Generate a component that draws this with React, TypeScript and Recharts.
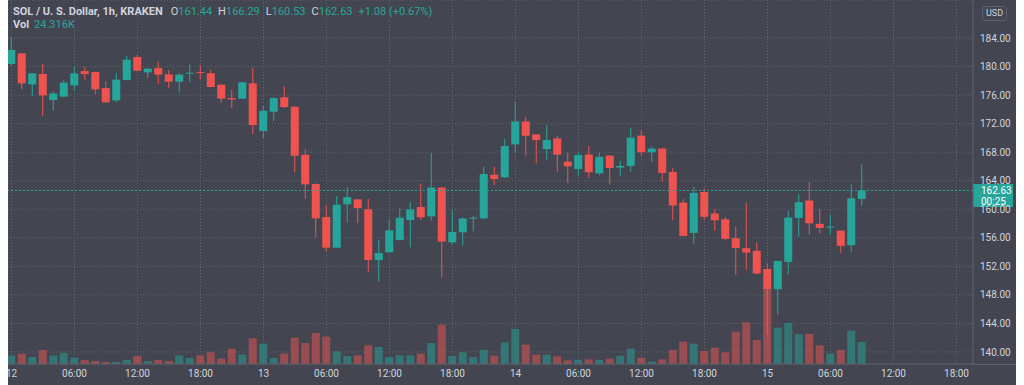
import React from 'react';
import { ComposedChart, Bar, XAxis, YAxis, CartesianGrid, ReferenceLine } from 'recharts';

// SOL / USD, 1h candles from 12th 00:00 to 15th 09:00 (hour index = position)
const open = [
  180.36, 181.85, 177.5, 178.95, 175.31, 175.78, 177.36, 179.37, 179.23, 176.99,
  175.26, 178.11, 181.34, 179.19, 179.79, 178.91, 177.88, 179.0, 179.23, 179.05,
  177.46, 175.59, 175.5, 177.64, 170.96, 173.67, 175.68, 174.37, 167.64, 163.54,
  158.91, 154.62, 160.69, 161.39, 159.99, 152.89, 153.96, 155.69, 158.49, 160.31,
  159.0, 163.05, 155.37, 156.77, 158.68, 158.73, 164.84, 164.47, 169.09, 172.31,
  170.49, 168.44, 169.93, 166.66, 165.64, 167.66, 165.04, 167.52, 165.84, 166.07,
  170.32, 167.99, 168.5, 165.23, 160.94, 156.69, 162.43, 159.4, 158.6, 155.94,
  154.54, 154.17, 151.63, 148.8, 152.63, 158.79, 161.22, 157.95, 157.44, 157.01,
  154.96, 161.44,
];
const high = [
  184.1, 181.9, 179.1, 180.35, 176.5, 178.1, 180.03, 179.9, 179.25, 177.93,
  179.05, 181.52, 181.66, 179.75, 180.68, 179.51, 179.05, 180.31, 180.21, 179.6,
  177.5, 176.71, 177.8, 179.84, 174.47, 175.7, 177.22, 174.4, 168.44, 163.6,
  160.5, 161.85, 163.11, 161.4, 161.43, 155.74, 158.54, 160.13, 160.97, 163.58,
  167.83, 163.1, 159.94, 158.8, 159.1, 165.97, 165.97, 169.84, 175.11, 172.97,
  170.5, 171.85, 170.26, 167.97, 167.97, 168.87, 167.9, 167.55, 166.77, 171.44,
  171.07, 168.83, 168.6, 165.79, 161.4, 163.13, 162.9, 160.0, 158.93, 157.57,
  160.89, 155.33, 152.43, 152.8, 159.72, 162.08, 163.83, 160.0, 159.25, 157.05,
  163.5, 166.29,
];
const low = [
  180.1, 176.85, 175.87, 173.07, 173.81, 175.7, 176.62, 178.2, 176.15, 174.9,
  174.98, 178.05, 179.33, 178.44, 177.5, 176.99, 176.38, 177.79, 178.16, 177.1,
  174.93, 174.19, 175.45, 170.54, 169.98, 172.32, 174.2, 165.17, 161.43, 156.07,
  154.1, 154.6, 158.17, 158.07, 151.16, 149.9, 153.9, 155.6, 154.67, 158.5,
  158.4, 150.46, 155.04, 154.94, 156.9, 158.6, 163.4, 164.4, 167.97, 167.5,
  166.43, 166.94, 165.22, 163.68, 164.7, 164.39, 164.76, 163.46, 164.72, 165.28,
  167.52, 166.63, 163.88, 158.46, 156.2, 155.1, 158.55, 156.97, 155.7, 150.76,
  151.55, 150.9, 142.38, 145.2, 150.85, 156.13, 156.45, 156.59, 156.37, 153.89,
  154.03, 160.53,
];
const close = [
  182.32, 177.64, 179.05, 175.96, 176.24, 177.74, 179.05, 178.95, 176.8, 174.98,
  178.16, 180.96, 179.42, 179.7, 178.86, 177.88, 178.86, 179.14, 179.09, 177.13,
  175.5, 175.4, 177.79, 171.8, 173.81, 175.59, 174.33, 167.5, 163.49, 158.73,
  154.62, 160.64, 161.71, 160.17, 152.89, 153.87, 157.04, 158.82, 159.99, 158.87,
  163.05, 155.46, 156.82, 158.71, 158.82, 164.94, 164.24, 168.86, 172.31, 170.3,
  169.7, 169.7, 167.64, 166.01, 167.6, 165.18, 167.33, 165.79, 166.07, 170.04,
  167.99, 168.5, 165.09, 160.52, 156.27, 162.29, 158.93, 158.46, 155.85, 154.59,
  153.93, 151.0, 148.83, 152.75, 158.83, 160.99, 158.04, 157.39, 157.57, 154.87,
  161.54, 162.63,
];
// volume in thousands
const volume = [
  9.2, 11.4, 7.7, 15.5, 9.2, 12.2, 7.0, 4.4, 3.3, 2.2,
  2.2, 4.4, 8.8, 3.3, 4.4, 3.3, 9.6, 6.6, 9.6, 12.9,
  5.9, 16.9, 10.3, 28.4, 22.5, 6.6, 11.4, 29.1, 23.2, 34.3,
  30.2, 14.0, 8.8, 9.6, 20.6, 18.8, 7.7, 9.6, 9.6, 11.4,
  23.2, 43.5, 8.8, 12.9, 7.7, 15.5, 9.2, 23.9, 38.7, 21.4,
  10.3, 10.3, 8.5, 4.1, 4.8, 5.2, 4.4, 5.9, 9.2, 16.9,
  6.6, 2.6, 5.2, 15.5, 24.7, 22.5, 14.4, 18.1, 12.9, 35.7,
  46.1, 26.5, 82.9, 40.2, 45.3, 32.8, 33.2, 20.6, 11.4, 15.5,
  36.8, 24.316,
];

const timeTicks = [0, 6, 12, 18, 24, 30, 36, 42, 48, 54, 60, 66, 72, 78, 84, 90];
const timeLabels = ['12', '06:00', '12:00', '18:00', '13', '06:00', '12:00', '18:00', '14', '06:00', '12:00', '18:00', '15', '06:00', '12:00', '18:00'];
const priceTicks = [140, 144, 148, 152, 156, 160, 164, 168, 172, 176, 180, 184];
const lastPrice = 162.63;

const data = open.map((o, i) => ({
  hour: i,
  open: o,
  high: high[i],
  low: low[i],
  close: close[i],
  volume: volume[i],
}));

const UP = '#26a69a';
const DOWN = '#ef5350';
const BG = '#434651';
const GRID = '#62656f';
const BORDER = '#5d606b';
const TEXT = '#d1d4dc';
const FONT = 'Roboto, "Noto Sans", sans-serif';

const Candle = (props: any) => {
  const { x, y, width, height, payload } = props;
  const up = payload.close >= payload.open;
  const color = up ? UP : DOWN;
  const k = height / (payload.high - payload.low);
  const yo = y + (payload.high - payload.open) * k;
  const yc = y + (payload.high - payload.close) * k;
  const top = Math.min(yo, yc);
  const h = Math.max(1, Math.abs(yo - yc));
  const cx = x + width / 2;
  return (
    <g>
      <line x1={cx} x2={cx} y1={y} y2={y + height} stroke={color} strokeWidth={1} />
      <rect x={x} y={top} width={width} height={h} fill={color} />
    </g>
  );
};

const VolBar = (props: any) => {
  const { x, y, width, height, payload } = props;
  const up = payload.close >= payload.open;
  return <rect x={x} y={y} width={width} height={height} fill={up ? UP : DOWN} fillOpacity={0.5} />;
};

const PriceBadge = (props: any) => {
  const vb = props.viewBox || {};
  const x = vb.x + vb.width;
  const y = vb.y;
  return (
    <g>
      <rect x={x} y={y - 6.5} width={40} height={23} fill={UP} />
      <text x={x + 8} y={y + 0.5} fill="#ffffff" fontSize={10} fontFamily={FONT} dominantBaseline="central">
        {lastPrice.toFixed(2)}
      </text>
      <text x={x + 8} y={y + 11} fill="#ffffff" fontSize={10} fontFamily={FONT} dominantBaseline="central">
        00:25
      </text>
    </g>
  );
};

export default function App() {
  const last = data[data.length - 1];
  const change = last.close - open[open.length - 1];
  return (
    <div style={{ position: 'absolute', left: 8, top: 0, width: 1008, height: 385, background: BG, fontFamily: FONT }}>
      <ComposedChart width={1008} height={385} data={data} margin={{ top: 0, right: 0, bottom: 0, left: 0 }}>
        <CartesianGrid stroke={GRID} strokeDasharray="1 2" />
        <XAxis
          dataKey="hour"
          type="number"
          domain={[-1 / 3, 91.571]}
          allowDataOverflow
          ticks={timeTicks}
          interval={0}
          tickFormatter={(v: number) => timeLabels[timeTicks.indexOf(v)]}
          height={21}
          tickSize={0}
          tickMargin={6}
          axisLine={{ stroke: BORDER }}
          tick={{ fill: TEXT, fontSize: 10, fontFamily: FONT }}
        />
        <XAxis xAxisId="vol" dataKey="hour" type="number" domain={[-1 / 3, 91.571]} allowDataOverflow hide />
        <YAxis
          orientation="right"
          domain={[138.316, 189.325]}
          allowDataOverflow
          ticks={priceTicks}
          interval={0}
          width={43}
          tickSize={0}
          tickMargin={7}
          axisLine={{ stroke: BORDER }}
          tickFormatter={(v: number) => v.toFixed(2)}
          tick={{ fill: TEXT, fontSize: 10, fontFamily: FONT }}
        />
        <YAxis yAxisId="vol" domain={[0, 402]} allowDataOverflow hide />
        <Bar
          xAxisId="vol"
          yAxisId="vol"
          dataKey="volume"
          barSize={8}
          shape={VolBar}
          isAnimationActive={false}
        />
        <Bar
          dataKey={(d: any) => [d.low, d.high]}
          barSize={8}
          shape={Candle}
          isAnimationActive={false}
        />
        <ReferenceLine y={lastPrice} stroke={UP} strokeDasharray="2 2" label={<PriceBadge />} />
      </ComposedChart>
      <div style={{ position: 'absolute', left: 965, top: 364, width: 43, height: 1, background: BORDER }} />
      <div style={{ position: 'absolute', left: 5, top: 5, fontSize: 11, lineHeight: '14px', color: TEXT, whiteSpace: 'nowrap' }}>
        <span style={{ fontWeight: 700 }}>SOL / U. S. Dollar, 1h, KRAKEN</span>
        <span style={{ marginLeft: 8 }}>O</span>
        <span style={{ color: UP }}>{last.open.toFixed(2)}</span>
        <span style={{ marginLeft: 6 }}>H</span>
        <span style={{ color: UP }}>{last.high.toFixed(2)}</span>
        <span style={{ marginLeft: 6 }}>L</span>
        <span style={{ color: UP }}>{last.low.toFixed(2)}</span>
        <span style={{ marginLeft: 6 }}>C</span>
        <span style={{ color: UP }}>{last.close.toFixed(2)}</span>
        <span style={{ color: UP, marginLeft: 6 }}>+1.08 (+0.67%)</span>
      </div>
      <div style={{ position: 'absolute', left: 5, top: 18, fontSize: 11, lineHeight: '14px', color: TEXT, whiteSpace: 'nowrap' }}>
        <span style={{ fontWeight: 700 }}>Vol</span>
        <span style={{ color: UP, marginLeft: 5 }}>{(last.volume).toFixed(3)}K</span>
      </div>
      <div
        style={{
          position: 'absolute',
          left: 974,
          top: 6,
          padding: '0 3px',
          fontSize: 9,
          lineHeight: '13px',
          color: TEXT,
          border: '1px solid #5d606b',
          borderRadius: 3,
        }}
      >
        USD
      </div>
    </div>
  );
}
